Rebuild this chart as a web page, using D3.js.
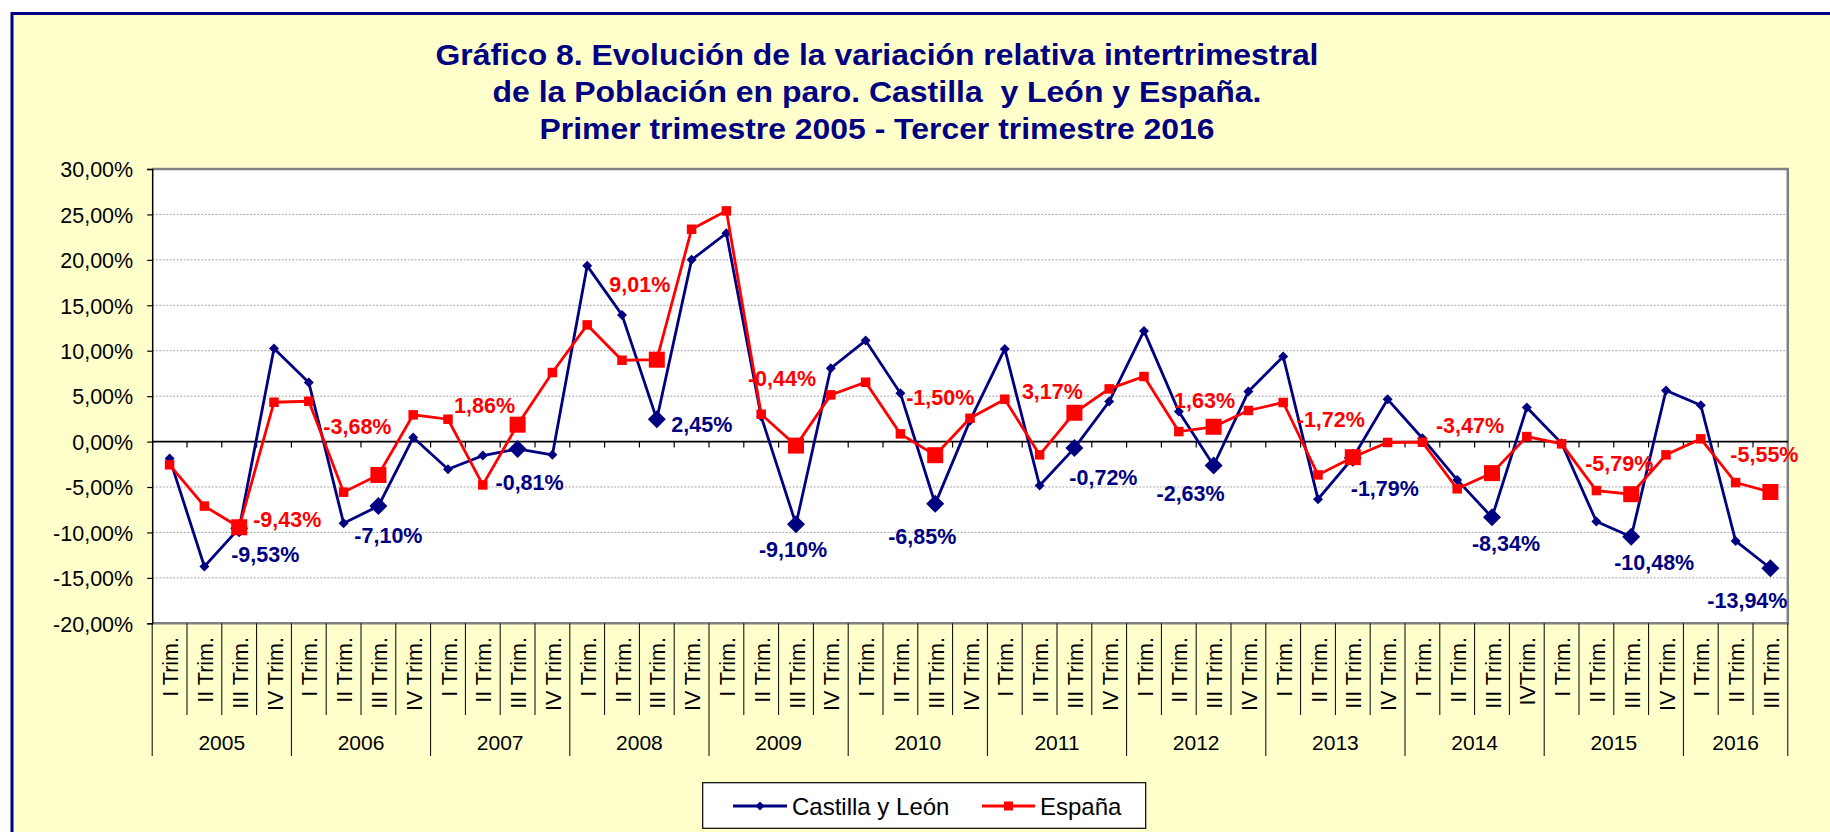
<!DOCTYPE html>
<html><head><meta charset="utf-8">
<script src="https://cdn.jsdelivr.net/npm/d3@7"></script>
<style>html,body{margin:0;padding:0;background:#fff;} svg{display:block;font-family:Arial,"Liberation Sans",sans-serif;}</style>
</head><body>
<svg id="c" width="1830" height="832"></svg>
<script>
const titleLines = ["Gráfico 8. Evolución de la variación relativa intertrimestral",
  "de la Población en paro. Castilla  y León y España.",
  "Primer trimestre 2005 - Tercer trimestre 2016"];
const quarterLabels = [
 "I Trim.","II Trim.","III Trim.","IV Trim.", "I Trim.","II Trim.","III Trim.","IV Trim.",
 "I Trim.","II Trim.","III Trim.","IV Trim.", "I Trim.","II Trim.","III Trim.","IV Trim.",
 "I Trim.","II Trim.","III Trim.","IV Trim.", "I Trim.","II Trim.","III Trim.","IV Trim.",
 "I Trim.","II Trim.","III Trim.","IV Trim.", "I Trim.","II Trim.","III Trim.","IV Trim.",
 "I Trim.","II Trim.","III Trim.","IV Trim.", "I Trim.","II Trim.","III Trim.","IVTrim.",
 "I Trim.","II Trim.","III Trim.","IV Trim.", "I Trim.","II Trim.","III Trim."];
const yearLabels = ["2005","2006","2007","2008","2009","2010","2011","2012","2013","2014","2015","2016"];
const yearQuarterCounts = [4,4,4,4,4,4,4,4,4,4,4,3];
const yTicks = [30,25,20,15,10,5,0,-5,-10,-15,-20];
const seriesNames = ["Castilla y León","España"];
const castilla = [-1.85,-13.75,-9.53,10.24,6.5,-8.98,-7.10,0.44,-3.04,-1.54,-0.81,-1.46,
  19.34,13.94,2.45,20.0,22.93,2.75,-9.10,8.08,11.12,5.32,-6.85,2.3,10.2,-4.84,-0.72,4.4,
  12.18,3.3,-2.63,5.5,9.36,-6.34,-1.79,4.66,0.37,-4.22,-8.34,3.75,-0.18,-8.8,-10.48,5.62,
  4.0,-10.93,-13.94];
const espana = [-2.56,-7.1,-9.43,4.33,4.44,-5.57,-3.68,2.94,2.46,-4.77,1.86,7.6,
  12.84,8.95,9.01,23.37,25.39,3.01,-0.44,5.14,6.53,0.85,-1.50,2.57,4.66,-1.46,3.17,5.8,
  7.16,1.1,1.63,3.42,4.3,-3.67,-1.72,-0.1,-0.07,-5.2,-3.47,0.55,-0.25,-5.39,-5.79,-1.46,
  0.3,-4.51,-5.55];
// label offsets (px) for the highlighted points (every III Trim.)
const castillaLabelOffsets = [[26,26],[10,29],[12,33],[45,5],[-3,25],[-13,33],[29,29],[-23,28],[32,31],[14,26],[23,26],[-23,32]];
const espanaLabelOffsets = [[48,-8],[-21,-49],[-33,-19],[-17,-75],[-14,-67],[5,-58],[-22,-21],[-9,-26],[-22,-38],[-22,-48],[-12,-31],[-6,-38]];

const BLUE = "#000080", RED = "#FF0000", BG = "#FFFFCC";
const svg = d3.select("#c");
const L = 152.2, R = 1787.8, T = 169, B = 623.3;

svg.append("rect").attr("x",12).attr("y",13.5).attr("width",1830).attr("height",840)
  .attr("fill",BG).attr("stroke",BLUE).attr("stroke-width",3);

// title
const titleCenter = 877, titleBase = [65, 101.5, 139], titleWidths = [883, 769, 675];
titleLines.forEach((t,i)=>{
  svg.append("text").attr("x",titleCenter).attr("y",titleBase[i]).attr("text-anchor","middle")
    .attr("font-size",30).attr("font-weight","bold").attr("fill",BLUE)
    .style("white-space","pre")
    .attr("textLength",titleWidths[i]).attr("lengthAdjust","spacingAndGlyphs").text(t);
});

const idx = d3.range(quarterLabels.length);
const x = d3.scaleBand().domain(idx).range([L,R]).padding(0);
const y = d3.scaleLinear().domain([-20,30]).range([B,T]);
const cx = i => x(i) + x.bandwidth()/2;
const fmt = v => v.toFixed(2).replace(".",",")+"%";

svg.append("rect").attr("x",L).attr("y",T).attr("width",R-L).attr("height",B-T).attr("fill","#fff");

// gridlines
svg.append("g").selectAll("line").data(yTicks.filter(v=>v!==0 && v!==30 && v!==-20)).join("line")
  .attr("x1",L).attr("x2",R).attr("y1",d=>y(d)).attr("y2",d=>y(d))
  .attr("stroke","#a6a6a6").attr("stroke-width",1).attr("stroke-dasharray","2,1.5");

// plot border (top, right, bottom)
svg.append("path").attr("d",`M${L},${y(30)}H${R}V${y(-20)}H${L}`).attr("fill","none")
  .attr("stroke","#808080").attr("stroke-width",2.5);

// y axis
const yAxis = d3.axisLeft(y).tickValues(yTicks).tickSize(5).tickPadding(14).tickFormat(fmt);
const ga = svg.append("g").attr("transform",`translate(${L},0)`).call(yAxis);
ga.select(".domain").attr("stroke","#000").attr("stroke-width",1.5);
ga.selectAll(".tick line").attr("stroke","#000").attr("stroke-width",1.2);
ga.selectAll(".tick text").attr("font-size",21.5).attr("fill","#000").attr("font-family","Arial, 'Liberation Sans', sans-serif").attr("dy","0.36em");

// zero axis with ticks down at boundaries
svg.append("line").attr("x1",L).attr("x2",R).attr("y1",y(0)).attr("y2",y(0)).attr("stroke","#000").attr("stroke-width",1.8);
svg.append("g").selectAll("line").data(d3.range(1,quarterLabels.length)).join("line")
  .attr("x1",i=>x(i)).attr("x2",i=>x(i)).attr("y1",y(0)).attr("y2",y(0)+6)
  .attr("stroke","#000").attr("stroke-width",1.2);

// category separators
const yearStarts = [];
yearQuarterCounts.reduce((a,c)=>{yearStarts.push(a); return a+c;},0);
const boundaries = d3.range(0,quarterLabels.length+1);
svg.append("g").selectAll("line").data(boundaries).join("line")
  .attr("x1",i=>i<quarterLabels.length?x(i):R).attr("x2",i=>i<quarterLabels.length?x(i):R)
  .attr("y1",B).attr("y2",i=>(yearStarts.includes(i)||i===quarterLabels.length)?756:715)
  .attr("stroke","#000").attr("stroke-width",1);

// category labels
svg.append("g").selectAll("text").data(idx).join("text")
  .attr("transform",i=>`translate(${cx(i)+8.5},637) rotate(-90)`)
  .attr("text-anchor","end").attr("font-size",21.5).attr("fill","#000")
  .text(i=>quarterLabels[i]);

// year labels
svg.append("g").selectAll("text").data(yearLabels).join("text")
  .attr("x",(d,k)=>{const s=yearStarts[k]; return (x(s)+x(s+yearQuarterCounts[k]-1)+x.bandwidth())/2;})
  .attr("y",750).attr("text-anchor","middle").attr("font-size",21).attr("fill","#000").text(d=>d);

// lines
const line = d3.line().x((d,i)=>cx(i)).y(d=>y(d));
function diamond(s){return `M0,${-s}L${s},0L0,${s}L${-s},0Z`;}
function drawSeries(vals,color,shape){
  svg.append("path").datum(vals).attr("d",line).attr("fill","none").attr("stroke",color).attr("stroke-width",2.8).attr("stroke-linejoin","miter");
  const g = svg.append("g");
  vals.forEach((v,i)=>{
    const big = i%4===2;
    if(shape==="d"){
      g.append("path").attr("d",diamond(big?9:5)).attr("transform",`translate(${cx(i)},${y(v)})`).attr("fill",color);
    } else {
      const s = big?16:9.5;
      g.append("rect").attr("x",cx(i)-s/2).attr("y",y(v)-s/2).attr("width",s).attr("height",s).attr("fill",color);
    }
  });
}
drawSeries(castilla,BLUE,"d");
drawSeries(espana,RED,"s");

// data labels
function drawLabels(vals,offs,color){
  idx.filter(i=>i%4===2).forEach((i,k)=>{
    svg.append("text").attr("x",cx(i)+offs[k][0]).attr("y",y(vals[i])+offs[k][1]+7.6)
      .attr("text-anchor","middle").attr("font-size",21.5).attr("font-weight","bold").attr("fill",color).text(fmt(vals[i]));
  });
}
drawLabels(castilla,castillaLabelOffsets,BLUE);
drawLabels(espana,espanaLabelOffsets,RED);

// legend
const lg = svg.append("g");
lg.append("rect").attr("x",702.7).attr("y",782.7).attr("width",443).attr("height",45.6).attr("fill","#fff").attr("stroke","#000").attr("stroke-width",1.2);
const legendItems = [{name:seriesNames[0],color:BLUE,shape:"d",x0:733,x1:787,tx:792},{name:seriesNames[1],color:RED,shape:"s",x0:982,x1:1035,tx:1040}];
legendItems.forEach(it=>{
  lg.append("line").attr("x1",it.x0).attr("x2",it.x1).attr("y1",806).attr("y2",806).attr("stroke",it.color).attr("stroke-width",2.8);
  const m=(it.x0+it.x1)/2;
  if(it.shape==="d") lg.append("path").attr("d",diamond(4.5)).attr("transform",`translate(${m},806)`).attr("fill",it.color);
  else lg.append("rect").attr("x",m-4.5).attr("y",801.5).attr("width",9).attr("height",9).attr("fill",it.color);
  lg.append("text").attr("x",it.tx).attr("y",814.5).attr("font-size",24).attr("fill","#000").text(it.name);
});
</script>
</body></html>
